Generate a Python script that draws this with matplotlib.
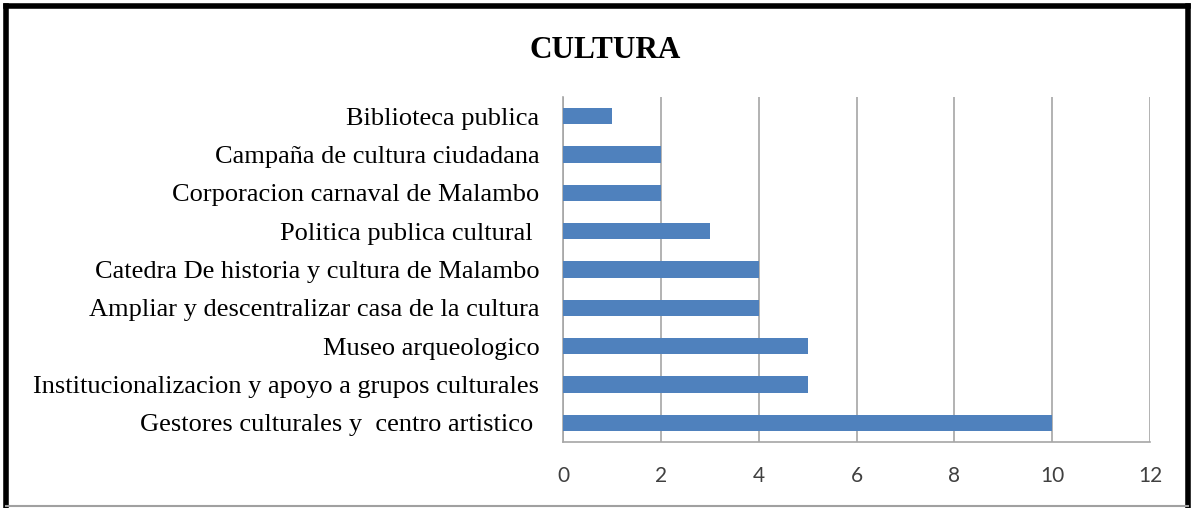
import numpy as np
import matplotlib.pyplot as plt
from matplotlib.lines import Line2D

categorias = ["Biblioteca publica",
              "Campaña de cultura ciudadana",
              "Corporacion carnaval de Malambo",
              "Politica publica cultural ",
              "Catedra De historia y cultura de Malambo",
              "Ampliar y descentralizar casa de la cultura",
              "Museo arqueologico",
              "Institucionalizacion y apoyo a grupos culturales",
              "Gestores culturales y  centro artistico "]
valores = [1, 2, 2, 3, 4, 4, 5, 5, 10]
xticks = [0, 2, 4, 6, 8, 10, 12]

W, H = 1195, 508
fig = plt.figure(figsize=(W/100, H/100), dpi=100)
ax = fig.add_axes([563/W, 1 - 442/H, (1150-563)/W, (442-97)/H])

y = np.arange(len(categorias))
ax.barh(y, valores, height=0.42, color='#4F81BD', zorder=3)
ax.set_ylim(len(categorias) - 0.5, -0.5)
ax.set_xlim(0, 12)
ax.set_xticks(xticks)
ax.set_yticks(y)
ax.set_yticklabels(categorias, family='Liberation Serif', fontsize=19)
ax.tick_params(axis='y', length=0, pad=17)
ax.tick_params(axis='x', length=0, pad=17, labelsize=15, labelcolor='#404040')
for lab in ax.get_xticklabels():
    lab.set_family(['Lato', 'DejaVu Sans'])

ax.grid(axis='x', color='#A6A6A6', linewidth=1.2, zorder=0)
for s in ['top', 'right']:
    ax.spines[s].set_visible(False)
ax.spines['left'].set_color('#A6A6A6')
ax.spines['bottom'].set_color('#A6A6A6')
ax.spines['left'].set_linewidth(1.2)
ax.spines['bottom'].set_linewidth(1.2)

fig.text(605/W, 1 - 51/H, "CULTURA", ha='center', va='center',
         family='Liberation Serif', fontweight='bold', fontsize=22.5)

# marco de la figura
bk = dict(color='black', linewidth=4, transform=fig.transFigure)
fig.add_artist(Line2D([6/W, 1188/W], [1 - 6/H, 1 - 6/H], **bk))
fig.add_artist(Line2D([6/W, 6/W], [1 - 6/H, 0], **bk))
fig.add_artist(Line2D([1188/W, 1188/W], [1 - 6/H, 0], **bk))
fig.add_artist(Line2D([6/W, 1188/W], [1 - 506/H, 1 - 506/H], color='#A0A0A0',
                      linewidth=1.5, transform=fig.transFigure))

plt.savefig("out.png", dpi=100)
